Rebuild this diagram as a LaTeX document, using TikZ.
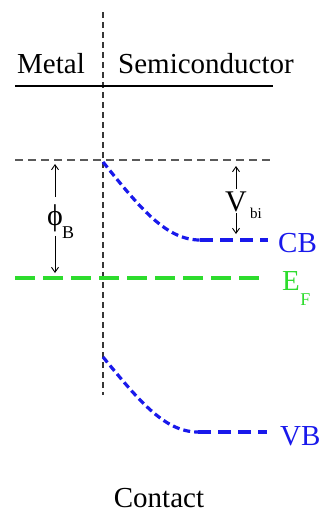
\documentclass[tikz,border=0pt]{standalone}
\usepackage{fontspec}
\setmainfont{Liberation Serif}
\usetikzlibrary{arrows.meta,positioning}
\definecolor{bandblue}{RGB}{25,25,235}
\definecolor{fermigreen}{RGB}{45,220,45}
\definecolor{levelgray}{RGB}{90,90,90}
\tikzset{
  txt/.style={inner sep=0pt,font=\fontsize{29}{34}\selectfont},
  subtxt/.style={inner sep=0pt,font=\fontsize{18}{20}\selectfont},
  barrow/.style={line width=0.9pt,-{Straight Barb[length=5pt,width=7pt]}},
  bandcurve/.style={bandblue,line width=3.2pt,dash pattern=on 7pt off 4pt},
  bandflat/.style={bandblue,line width=3.2pt,dash pattern=on 13pt off 7pt},
}

\begin{document}
\begin{tikzpicture}[x=1pt,y=-1pt]
\useasboundingbox (0,0) rectangle (320,514);
% interface and header
\coordinate (Jtop) at (103,12);
\coordinate (Jbot) at (103,395);
\coordinate (Hl) at (15,86);
\coordinate (Hr) at (273,86);
\draw [levelgray!60!black,line width=1.5pt,dash pattern=on 6pt off 4pt] (Jtop) -- (Jbot);
\draw [line width=2.5pt] (Hl) -- (Hr);
\node [txt,anchor=base] (metal) at (51,73) {Metal};
\node [txt,anchor=base west] (semi) at (118,73) {Semiconductor};
% vacuum / barrier level
\coordinate (Bl) at (15,160);
\coordinate (Br) at (270,160);
\draw [levelgray,line width=1.8pt,dash pattern=on 8pt off 5pt] (Bl) -- (Br);
% conduction band
\coordinate (CBa) at (103,162);
\coordinate (CBb) at (200,240);
\coordinate (CBc) at (268,240);
\draw [bandcurve] (CBa) .. controls (140,208) and (166,240) .. (CBb);
\draw [bandflat] (CBb) -- (CBc);
\node [txt,text=bandblue,anchor=base west] (cb) at (278,252) {CB};
% fermi level
\coordinate (EFl) at (15,278);
\coordinate (EFr) at (265,278);
\draw [fermigreen,line width=3.2pt,dash pattern=on 20pt off 8pt] (EFl) -- (EFr);
\node [txt,text=fermigreen,anchor=base west] (ef) at (282,290) {E};
\node [subtxt,text=fermigreen,anchor=base west,yshift=-15pt] (efsub) at (ef.base east) {F};
% valence band
\coordinate (VBa) at (103,357);
\coordinate (VBb) at (198,432);
\coordinate (VBc) at (267,432);
\draw [bandcurve] (VBa) .. controls (140,402) and (165,432) .. (VBb);
\draw [bandflat] (VBb) -- (VBc);
\node [txt,text=bandblue,anchor=base west] (vb) at (280,445) {VB};
% barrier height
\node [inner sep=0pt,font=\fontsize{30}{34}\selectfont] (phi) at (55,218) {ϕ};
\node [subtxt,anchor=base west] (phisub) at (62,238) {B};
\draw [barrow,shorten <=7pt,shorten >=4pt] (phi.north) -- (phi.north |- Bl);
\draw [barrow,shorten <=4pt,shorten >=5pt] (phi.south) -- (phi.south |- EFl);
% built-in potential
\node [inner sep=0pt,font=\fontsize{30}{34}\selectfont] (vbi) at (236,202) {V};
\node [inner sep=0pt,font=\fontsize{15}{17}\selectfont,anchor=base west] (vbisub) at (250,218) {bi};
\draw [barrow,shorten <=3pt,shorten >=6pt] (vbi.north) -- (vbi.north |- Br);
\draw [barrow,shorten <=1pt,shorten >=6pt] (vbi.south) -- (vbi.south |- CBc);
% bottom label
\node [txt,anchor=base] (contact) at (159,507) {Contact};
\end{tikzpicture}
\end{document}
